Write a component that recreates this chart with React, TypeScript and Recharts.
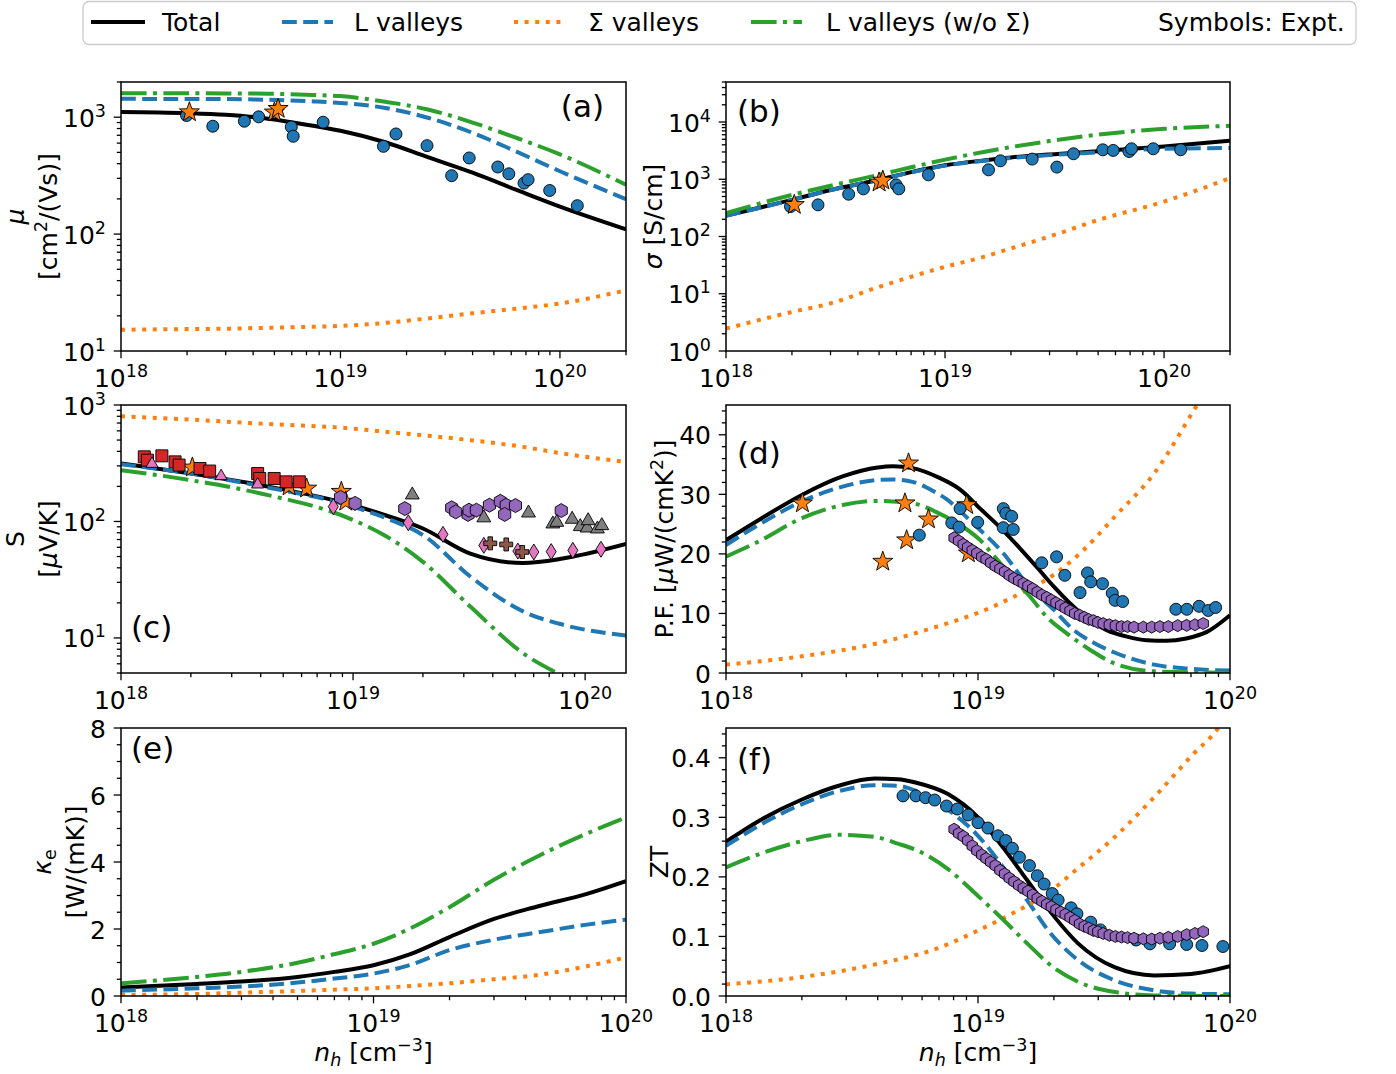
import React from 'react';
import { ComposedChart, Line, Scatter, XAxis, YAxis } from 'recharts';

// ================= DATA =================
// (a) mobility [cm^2/(Vs)]
const A_N = [1e18, 2e18, 3e18, 4e18, 5.6e18, 7.5e18, 1e19, 1.6e19, 2.5e19, 4e19, 6.3e19, 1e20, 2e20];
const A_TOTAL = [1110, 1085, 1050, 1005, 925, 845, 765, 610, 455, 335, 240, 172, 110];
const A_L = [1435, 1432, 1428, 1418, 1395, 1365, 1325, 1200, 990, 735, 510, 345, 199];
const A_SIG = [15.2, 15.4, 15.5, 15.7, 15.9, 16.1, 16.4, 17.4, 19, 21, 23, 25.5, 33];
const A_LNOS = [1600, 1600, 1598, 1595, 1575, 1550, 1515, 1355, 1165, 900, 668, 481, 264];
const A_CIRC_N = [1.99e18, 2.62e18, 3.65e18, 4.24e18, 5.97e18, 6.09e18, 8.34e18, 1.57e19, 1.79e19, 2.48e19, 3.21e19, 3.86e19, 5.21e19, 5.85e19, 6.86e19, 7.16e19, 8.98e19, 1.2e20];
const A_CIRC_MU = [1033, 837, 924, 1007, 826, 687, 906, 563, 719, 571, 316, 448, 375, 328, 273, 292, 236, 175];
const A_STAR_N = [2.05e18, 5.0e18, 5.2e18];
const A_STAR_MU = [1104, 1100, 1180];

// (b) conductivity [S/cm]
const B_N = [1e18, 2e18, 3e18, 5e18, 7e18, 1e19, 1.5e19, 2e19, 3e19, 5e19, 1e20, 2e20];
const B_TOTAL = [232, 437, 650, 980, 1330, 1750, 2130, 2400, 2720, 3080, 3750, 4710];
const B_L = [230, 435, 645, 975, 1320, 1730, 2100, 2350, 2640, 2950, 3410, 3510];
const B_SIG = [2.46, 4.8, 6.8, 13.2, 19.8, 29.5, 44, 62, 100, 194, 408, 1050];
const B_LNOS = [256, 533, 770, 1200, 1620, 2200, 3000, 3650, 4650, 6000, 7600, 8600];
const B_CIRC_N = [1.97e18, 2.63e18, 3.63e18, 4.24e18, 5.98e18, 6.15e18, 8.4e18, 1.58e19, 1.79e19, 2.5e19, 3.24e19, 3.86e19, 5.25e19, 5.86e19, 6.92e19, 7.1e19, 8.93e19, 1.19e20];
const B_CIRC_SIGMA = [333, 357, 548, 680, 798, 680, 1194, 1462, 2100, 2250, 1630, 2790, 3270, 3190, 3060, 3410, 3410, 3280];
const B_STAR_N = [2.05e18, 5.0e18, 5.2e18];
const B_STAR_SIGMA = [357, 880, 950];

// (c) Seebeck [uV/K]
const C_N = [1e18, 2e18, 4e18, 1e19, 1.4e19, 2e19, 3.2e19, 5.4e19, 8e19, 1.5e20];
const C_TOTAL = [315, 258, 205, 138, 112, 87, 53, 44, 48, 64];
const C_L = [310, 258, 201, 134, 106, 76.5, 33.7, 16.9, 13, 10.5];
const C_SIG = [800, 749, 692, 627, 587, 550, 499, 437, 383, 325];
const C_LNOS = [276, 226, 174, 103, 74, 45, 18.6, 7.4, 4.7, 2.5];
const C_SQ_N = [1.26e18, 1.3e18, 1.5e18, 1.71e18, 1.78e18, 2.19e18, 2.41e18, 3.88e18, 3.96e18, 4.57e18, 5.15e18, 5.87e18];
const C_SQ_S = [359, 336, 366, 325, 305, 285, 271, 258, 234, 234, 219, 219];
const C_PTRI_N = [1.36e18, 2.7e18, 3.88e18];
const C_PTRI_S = [319, 250, 212];
const C_STAR_N = [2.03e18, 5.3e18, 6.31e18, 8.9e18, 9.3e18];
const C_STAR_S = [291, 200, 192, 180, 148];
const C_HEX_N = [8.83e18, 1.02e19, 1.67e19, 2.66e19, 2.77e19, 3.13e19, 3.16e19, 3.4e19, 3.87e19, 4.31e19, 4.57e19, 4.5e19, 5.01e19, 7.89e19];
const C_HEX_S = [161, 143, 129, 131, 121, 115, 125, 125, 138, 149, 138, 115, 137, 124];
const C_GTRI_N = [1.8e19, 3.66e19, 5.7e19, 7.26e19, 7.55e19, 8.79e19, 9.53e19, 1.02e20, 1.03e20, 1.13e20, 1.18e20];
const C_GTRI_S = [173, 110, 121, 97.5, 100.7, 107, 92.5, 90, 104, 88.3, 94.3];
const C_DIAM_N = [8.22e18, 1.73e19, 2.44e19, 3.66e19, 5.13e19, 6.01e19, 7.14e19, 8.85e19, 1.17e20];
const C_DIAM_S = [134, 97.5, 77.5, 62.4, 55.7, 54.7, 55.1, 56.5, 57.7];
const C_PLUS_N = [3.9e19, 4.57e19, 5.36e19];
const C_PLUS_S = [64.9, 63.5, 54.7];

// (d) power factor [uW/(cm K^2)]
const D_TOTAL_N = [1e18, 1.35e18, 2e18, 2.9e18, 4e18, 4.6e18, 5.5e18, 7e18, 8.5e18, 1.02e19, 1.22e19, 1.47e19, 1.71e19, 2e19, 2.32e19, 2.7e19, 3.24e19, 3.9e19, 4.67e19, 5.6e19, 6.7e19, 8.1e19, 1e20];
const D_TOTAL = [22.3, 25.7, 29.9, 33.0, 34.5, 34.7, 34.4, 32.8, 30.8, 27.6, 24.5, 20.9, 17.8, 14.5, 11.7, 9.2, 7.2, 6.1, 5.5, 5.4, 5.8, 6.9, 9.7];
const D_L_N = [1e18, 1.35e18, 2e18, 2.9e18, 4e18, 4.6e18, 5.5e18, 6.55e18, 7.5e18, 9.4e18, 1.26e19, 1.56e19, 2e19, 2.4e19, 2.9e19, 3.5e19, 5e19, 7e19, 1e20];
const D_L = [21.5, 24.9, 28.8, 31.3, 32.4, 32.5, 32.1, 30.7, 29.2, 25.4, 20.1, 15.0, 10.6, 7.2, 5.0, 3.4, 1.4, 0.7, 0.4];
const D_SIG_N = [1e18, 2e18, 4e18, 7.5e18, 1e19, 1.4e19, 2e19, 2.6e19, 3.5e19, 5e19, 7.4e19, 1e20];
const D_SIG = [1.4, 2.8, 5.0, 8.3, 10.1, 12.9, 16.5, 20.5, 26.3, 33.5, 45, 54];
const D_LNOS_N = [1e18, 1.35e18, 2e18, 2.9e18, 4e18, 5.5e18, 7e18, 8.75e18, 1.02e19, 1.15e19, 1.38e19, 1.61e19, 1.87e19, 2.25e19, 2.78e19, 3.5e19, 5e19, 1e20];
const D_LNOS = [19.55, 22.1, 26.0, 28.2, 28.9, 28.5, 26.8, 24.5, 22.3, 19.8, 15.9, 12.8, 9.45, 6.66, 3.9, 1.56, 0.28, 0.02];
const D_STAR_N = [2.01e18, 5.3e18, 5.13e18, 6.36e18, 5.21e18, 4.19e18, 9.02e18, 9.16e18];
const D_STAR_PF = [28.5, 35.2, 28.5, 25.8, 22.3, 18.7, 28.2, 20.1];
const D_CIRC_N = [5.85e18, 7.87e18, 8.41e18, 8.49e18, 9.97e18, 1.26e19, 1.29e19, 1.36e19, 1.26e19, 1.38e19, 1.79e19, 2.05e19, 2.21e19, 2.54e19, 2.72e19, 2.8e19, 3.12e19, 3.41e19, 3.5e19, 3.75e19, 6.1e19, 6.74e19, 7.54e19, 8.2e19, 8.77e19];
const D_CIRC_PF = [23.15, 25.2, 24.5, 27.6, 25.3, 27.6, 26.8, 26.3, 24.4, 24.1, 18.5, 19.5, 16.4, 13.5, 16.8, 15.3, 15.0, 13.4, 12.2, 12.0, 10.7, 10.7, 11.2, 10.5, 11.0];
const HEX_N = [8.04e18, 8.38e18, 8.74e18, 9.1e18, 9.49e18, 9.9e18, 1.035e19, 1.077e19, 1.123e19, 1.171e19, 1.222e19, 1.276e19, 1.331e19, 1.39e19, 1.45e19, 1.513e19, 1.579e19, 1.648e19, 1.719e19, 1.794e19, 1.874e19, 1.955e19, 2.04e19, 2.13e19, 2.22e19, 2.32e19, 2.42e19, 2.53e19, 2.64e19, 2.75e19, 2.87e19, 2.99e19, 3.14e19, 3.32e19, 3.51e19, 3.71e19, 3.92e19, 4.16e19, 4.53e19, 4.89e19, 5.27e19, 5.69e19, 6.2e19, 6.73e19, 7.26e19, 7.83e19];
const D_HEX_PF = [22.7, 22.2, 21.6, 21.1, 20.6, 20.1, 19.5, 19.1, 18.5, 17.95, 17.5, 17.0, 16.4, 15.9, 15.5, 15.05, 14.6, 14.15, 13.6, 13.1, 12.7, 12.25, 11.8, 11.35, 10.9, 10.45, 10.0, 9.7, 9.35, 9.0, 8.8, 8.5, 8.3, 8.1, 7.95, 7.8, 7.8, 7.7, 7.7, 7.7, 7.8, 7.8, 7.95, 8.0, 8.1, 8.3];

// (e) electronic thermal conductivity [W/(mK)]
const E_N = [1e18, 2e18, 3e18, 5e18, 7e18, 1e19, 1.4e19, 2e19, 3e19, 4.5e19, 7e19, 1e20];
const E_TOTAL = [0.25, 0.36, 0.43, 0.57, 0.72, 0.92, 1.25, 1.76, 2.3, 2.68, 3.05, 3.43];
const E_L = [0.16, 0.23, 0.28, 0.40, 0.52, 0.67, 0.93, 1.37, 1.68, 1.9, 2.13, 2.28];
const E_SIG = [0.03, 0.06, 0.10, 0.15, 0.19, 0.23, 0.30, 0.38, 0.50, 0.63, 0.89, 1.15];
const E_LNOS = [0.38, 0.57, 0.72, 0.99, 1.25, 1.56, 2.02, 2.65, 3.47, 4.18, 4.85, 5.33];

// (f) ZT
const F_N = [1e18, 1.35e18, 2e18, 2.8e18, 3.9e18, 4.8e18, 5.7e18, 7.6e18, 1e19, 1.26e19, 1.57e19, 1.95e19, 2.5e19, 3.5e19, 5e19, 7e19, 1e20];
const F_TOTAL = [0.259, 0.294, 0.330, 0.353, 0.365, 0.364, 0.358, 0.339, 0.300, 0.249, 0.194, 0.140, 0.088, 0.048, 0.0346, 0.037, 0.050];
const F_L = [0.252, 0.286, 0.322, 0.344, 0.354, 0.353, 0.344, 0.313, 0.269, 0.216, 0.160, 0.104, 0.060, 0.026, 0.0095, 0.004, 0.003];
const F_LNOS = [0.216, 0.238, 0.260, 0.2706, 0.267, 0.256, 0.245, 0.213, 0.168, 0.128, 0.088, 0.051, 0.0237, 0.0066, 0.001, 0.0003, 0.0];
const F_SIG_N = [1e18, 2e18, 4e18, 6.8e18, 1e19, 1.36e19, 1.69e19, 2.02e19, 2.42e19, 3.47e19, 4.98e19, 7.14e19, 8.87e19, 1e20];
const F_SIG = [0.0195, 0.0318, 0.054, 0.079, 0.11, 0.138, 0.16, 0.182, 0.21, 0.266, 0.333, 0.406, 0.447, 0.48];
const F_CIRC_N = [5.04e18, 5.67e18, 6.19e18, 6.73e18, 7.5e18, 8.28e18, 9.14e18, 1e19, 1.095e19, 1.2e19, 1.288e19, 1.369e19, 1.46e19, 1.6e19, 1.72e19, 1.83e19, 1.97e19, 2.08e19, 2.34e19, 2.47e19, 2.8e19, 3.06e19, 4.24e19, 4.81e19, 5.76e19, 6.73e19, 7.74e19, 9.37e19];
const F_CIRC_ZT = [0.336, 0.336, 0.333, 0.329, 0.319, 0.314, 0.304, 0.291, 0.282, 0.269, 0.261, 0.248, 0.233, 0.219, 0.202, 0.188, 0.172, 0.161, 0.148, 0.138, 0.124, 0.111, 0.094, 0.0876, 0.0876, 0.0865, 0.0848, 0.0831];
const F_HEX_ZT = [0.280, 0.273, 0.268, 0.261, 0.252, 0.244, 0.237, 0.231, 0.225, 0.219, 0.211, 0.205, 0.198, 0.192, 0.186, 0.181, 0.176, 0.170, 0.164, 0.159, 0.154, 0.150, 0.145, 0.141, 0.137, 0.132, 0.127, 0.121, 0.117, 0.114, 0.110, 0.108, 0.105, 0.102, 0.100, 0.099, 0.098, 0.097, 0.096, 0.0955, 0.097, 0.0985, 0.100, 0.103, 0.105, 0.108];

// ================= STYLE =================
const FONT = "'DejaVu Sans', 'Liberation Sans', sans-serif";
const FS = 25;
const FS_SUP = 17.5;
const MAJ = 7.3;
const MIN = 4.2;
const LW = 4;
const COL = {
  total: '#000000', L: '#1f77b4', S: '#ff7f0e', G: '#2ca02c',
  red: '#d62728', purple: '#9467bd', brown: '#8c564b', pink: '#e377c2', gray: '#7f7f7f',
};
const DASH_L = '14.8 6.4';
const DASH_S = '4 6.6';
const DASH_G = '25.6 6.4 4 6.4';

type Pt = { x: number; y: number };
const zip = (xs: number[], ys: number[]): Pt[] => xs.map((x, i) => ({ x, y: ys[i] }));

const logTicks = (lo: number, hi: number): number[] => {
  const out: number[] = [];
  for (let e = Math.floor(Math.log10(lo)); e <= Math.ceil(Math.log10(hi)); e++) {
    for (let m = 1; m <= 9; m++) {
      const v = m * Math.pow(10, e);
      if (v >= lo * 0.9999 && v <= hi * 1.0001) out.push(v);
    }
  }
  return out;
};
const linTicks = (lo: number, hi: number, step: number): number[] => {
  const n = Math.floor((hi - lo) / step + 1e-9);
  return Array.from({ length: n + 1 }, (_, i) => +(lo + i * step).toFixed(6));
};
const isDecade = (v: number) => Math.abs(Math.log10(v) - Math.round(Math.log10(v))) < 1e-6;

const renderLogXTick = (p: any) => {
  const { x, y, payload } = p;
  const v = payload.value as number;
  const major = isDecade(v);
  return (
    <g>
      <line x1={x} x2={x} y1={y} y2={y + (major ? MAJ : MIN)} stroke="#000" strokeWidth={1.3} />
      {major ? (
        <text x={x} y={y + 36} textAnchor="middle" fontSize={FS} fontFamily={FONT} fill="#000">
          10<tspan dy={-10} fontSize={FS_SUP}>{Math.round(Math.log10(v))}</tspan>
        </text>
      ) : null}
    </g>
  );
};
const renderLogYTick = (p: any) => {
  const { x, y, payload } = p;
  const v = payload.value as number;
  const major = isDecade(v);
  return (
    <g>
      <line x1={x - (major ? MAJ : MIN)} x2={x} y1={y} y2={y} stroke="#000" strokeWidth={1.3} />
      {major ? (
        <text x={x - 15} y={y + 9.5} textAnchor="end" fontSize={FS} fontFamily={FONT} fill="#000">
          10<tspan dy={-10} fontSize={FS_SUP}>{Math.round(Math.log10(v))}</tspan>
        </text>
      ) : null}
    </g>
  );
};
const makeLinYTick = (isMajor: (v: number) => boolean, fmt: (v: number) => string) => (p: any) => {
  const { x, y, payload } = p;
  const v = payload.value as number;
  const major = isMajor(v);
  return (
    <g>
      <line x1={x - (major ? MAJ : MIN)} x2={x} y1={y} y2={y} stroke="#000" strokeWidth={1.3} />
      {major ? (
        <text x={x - 15} y={y + 9.5} textAnchor="end" fontSize={FS} fontFamily={FONT} fill="#000">
          {fmt(v)}
        </text>
      ) : null}
    </g>
  );
};

// ---------- markers ----------
const EDGE = { stroke: '#000', strokeWidth: 0.9 };
const poly = (cx: number, cy: number, pts: [number, number][]) =>
  pts.map(([dx, dy], i) => `${i ? 'L' : 'M'}${(cx + dx).toFixed(2)},${(cy + dy).toFixed(2)}`).join('') + 'Z';
const regular = (R: number, n: number, rot: number): [number, number][] =>
  Array.from({ length: n }, (_, i) => [R * Math.cos(rot + (2 * Math.PI * i) / n), R * Math.sin(rot + (2 * Math.PI * i) / n)] as [number, number]);
const starPts = (R: number): [number, number][] =>
  Array.from({ length: 10 }, (_, i) => {
    const a = -Math.PI / 2 + (i * Math.PI) / 5;
    const rr = i % 2 === 0 ? R : R * 0.4;
    return [rr * Math.cos(a), rr * Math.sin(a)] as [number, number];
  });
const mkCircle = (fill: string, r: number) => (p: any) => <circle cx={p.cx} cy={p.cy} r={r} fill={fill} {...EDGE} />;
const mkPoly = (fill: string, pts: [number, number][]) => (p: any) => <path d={poly(p.cx, p.cy, pts)} fill={fill} {...EDGE} />;
const mkSquare = (fill: string, s: number) => mkPoly(fill, [[-s / 2, -s / 2], [s / 2, -s / 2], [s / 2, s / 2], [-s / 2, s / 2]]);
const mkStar = (fill: string, R: number) => mkPoly(fill, starPts(R));
const mkHex = (fill: string, R: number) => mkPoly(fill, regular(R, 6, -Math.PI / 2));
const mkTri = (fill: string, R: number) => mkPoly(fill, regular(R, 3, -Math.PI / 2).map(([a, b]) => [a, b + R * 0.15] as [number, number]));
const mkDiamond = (fill: string, w: number, h: number) => mkPoly(fill, [[0, -h], [w, 0], [0, h], [-w, 0]]);
const mkPlus = (fill: string, a: number, t: number) =>
  mkPoly(fill, [[-t, -a], [t, -a], [t, -t], [a, -t], [a, t], [t, t], [t, a], [-t, a], [-t, t], [-a, t], [-a, -t], [-t, -t]]);

const line = (key: string, xs: number[], ys: number[], stroke: string, dash?: string) => (
  <Line key={key} data={zip(xs, ys)} dataKey="y" type="monotone" stroke={stroke} strokeWidth={LW}
    strokeDasharray={dash} dot={false} activeDot={false} isAnimationActive={false} legendType="none" />
);
const scatter = (key: string, xs: number[], ys: number[], shape: (p: any) => any) => (
  <Scatter key={key} data={zip(xs, ys)} dataKey="y" shape={shape} isAnimationActive={false} legendType="none" />
);
const models = (p: string, n: number[][], tot: number[], l: number[], s: number[], g: number[]) => [
  line(p + 't', n[0], tot, COL.total),
  line(p + 'l', n[1], l, COL.L, DASH_L),
  line(p + 's', n[2], s, COL.S, DASH_S),
  line(p + 'g', n[3], g, COL.G, DASH_G),
];

// ---------- panels ----------
type Cfg = {
  left: number; top: number; w: number; h: number;
  xDom: [number, number]; yDom: [number, number]; yLog: boolean;
  yTicks: number[]; yTick: (p: any) => any;
};
const PA: Cfg = { left: 121, top: 82, w: 505, h: 269, xDom: [1e18, 2e20], yDom: [10, 2000], yLog: true, yTicks: logTicks(10, 2000), yTick: renderLogYTick };
const PB: Cfg = { left: 726, top: 82, w: 504, h: 269, xDom: [1e18, 2e20], yDom: [1, 5e4], yLog: true, yTicks: logTicks(1, 5e4), yTick: renderLogYTick };
const PC: Cfg = { left: 121, top: 405, w: 505, h: 268, xDom: [1e18, 1.5e20], yDom: [5, 1000], yLog: true, yTicks: logTicks(5, 1000), yTick: renderLogYTick };
const PD: Cfg = { left: 726, top: 405, w: 504, h: 268, xDom: [1e18, 1e20], yDom: [0, 45], yLog: false, yTicks: linTicks(0, 45, 2), yTick: makeLinYTick((v) => Math.abs(v % 10) < 1e-6, (v) => String(v)) };
const PE: Cfg = { left: 121, top: 728, w: 505, h: 268, xDom: [1e18, 1e20], yDom: [0, 8], yLog: false, yTicks: linTicks(0, 8, 0.5), yTick: makeLinYTick((v) => Math.abs(v % 2) < 1e-6, (v) => String(v)) };
const PF: Cfg = { left: 726, top: 728, w: 504, h: 268, xDom: [1e18, 1e20], yDom: [0, 0.45], yLog: false, yTicks: linTicks(0, 0.45, 0.02), yTick: makeLinYTick((v) => Math.abs(v * 10 - Math.round(v * 10)) < 1e-6, (v) => v.toFixed(1)) };
const PANELS = [PA, PB, PC, PD, PE, PF];

function Panel({ cfg, children }: { cfg: Cfg; children: React.ReactNode }) {
  const ML = 110, MR = 45, MT = 20, MB = 55;
  const W = cfg.w + ML + MR;
  const H = cfg.h + MT + MB;
  return (
    <div style={{ position: 'absolute', left: cfg.left - ML, top: cfg.top - MT, width: W, height: H }}>
      <ComposedChart width={W} height={H} margin={{ top: MT, right: MR, bottom: 0, left: 0 }}>
        <XAxis type="number" dataKey="x" scale="log" domain={cfg.xDom} allowDataOverflow
          ticks={logTicks(cfg.xDom[0], cfg.xDom[1])} interval={0} tickSize={0} tickMargin={0}
          axisLine={false} tickLine={false} tick={renderLogXTick} height={MB} />
        <YAxis type="number" dataKey="y" scale={cfg.yLog ? 'log' : 'linear'} domain={cfg.yDom} allowDataOverflow
          ticks={cfg.yTicks} interval={0} tickSize={0} tickMargin={0}
          axisLine={false} tickLine={false} tick={cfg.yTick} width={ML} />
        {children}
      </ComposedChart>
    </div>
  );
}

const T = (props: any) => <text fontFamily={FONT} fontSize={FS} fill="#000" style={{ whiteSpace: 'pre' }} {...props} />;
const rot = (x: number, y: number) => `translate(${x},${y}) rotate(-90)`;

function Overlay() {
  return (
    <svg width={1396} height={1074} style={{ position: 'absolute', left: 0, top: 0, pointerEvents: 'none' }}>
      {/* legend */}
      <rect x={83} y={1.5} width={1273} height={43} rx={6} fill="#fff" stroke="#cccccc" strokeWidth={1.3} />
      <line x1={91} x2={145} y1={22} y2={22} stroke={COL.total} strokeWidth={LW} />
      <T x={162} y={31}>Total</T>
      <line x1={282} x2={333} y1={22} y2={22} stroke={COL.L} strokeWidth={LW} strokeDasharray={DASH_L} />
      <T x={354} y={31}>L valleys</T>
      <line x1={514} x2={564} y1={22} y2={22} stroke={COL.S} strokeWidth={LW} strokeDasharray={DASH_S} />
      <T x={588} y={31}>Σ valleys</T>
      <line x1={751} x2={802} y1={22} y2={22} stroke={COL.G} strokeWidth={LW} strokeDasharray={DASH_G} />
      <T x={826} y={31}>L valleys (w/o Σ)</T>
      <T x={1158} y={31}>Symbols: Expt.</T>

      {/* frames */}
      {PANELS.map((p, i) => (
        <rect key={i} x={p.left} y={p.top} width={p.w} height={p.h} fill="none" stroke="#000" strokeWidth={1.5} />
      ))}

      {/* panel tags */}
      <T x={604} y={117} fontSize={31} textAnchor="end">(a)</T>
      <T x={737} y={122} fontSize={31}>(b)</T>
      <T x={131} y={638} fontSize={31}>(c)</T>
      <T x={737} y={464} fontSize={31}>(d)</T>
      <T x={131} y={759} fontSize={31}>(e)</T>
      <T x={737} y={770} fontSize={31}>(f)</T>

      {/* y labels */}
      <T transform={rot(24, 216.5)} textAnchor="middle"><tspan fontStyle="italic">μ</tspan></T>
      <T transform={rot(57, 216.5)} textAnchor="middle">[cm<tspan dy={-10} fontSize={FS_SUP}>2</tspan><tspan dy={10}>/(Vs)]</tspan></T>
      <T transform={rot(661.5, 216.5)} textAnchor="middle"><tspan fontStyle="italic">σ</tspan> [S/cm]</T>
      <T transform={rot(24, 539)} textAnchor="middle">S</T>
      <T transform={rot(57, 539)} textAnchor="middle">[<tspan fontStyle="italic">μ</tspan>V/K]</T>
      <T transform={rot(672.5, 539)} textAnchor="middle">P.F. [<tspan fontStyle="italic">μ</tspan>W/(cmK<tspan dy={-10} fontSize={FS_SUP}>2</tspan><tspan dy={10}>)]</tspan></T>
      <T transform={rot(51, 862)} textAnchor="middle"><tspan fontStyle="italic">κ</tspan><tspan dy={5} fontSize={FS_SUP}>e</tspan></T>
      <T transform={rot(83.5, 862)} textAnchor="middle">[W/(mK)]</T>
      <T transform={rot(668, 862)} textAnchor="middle">ZT</T>

      {/* x labels */}
      {[373.5, 978].map((cx) => (
        <T key={cx} x={cx} y={1061} textAnchor="middle">
          <tspan fontStyle="italic">n</tspan>
          <tspan dy={5} fontSize={FS_SUP} fontStyle="italic">h</tspan>
          <tspan dy={-5}> [cm</tspan>
          <tspan dy={-10} fontSize={FS_SUP}>−3</tspan>
          <tspan dy={10}>]</tspan>
        </T>
      ))}
    </svg>
  );
}

export default function App() {
  return (
    <div style={{ position: 'absolute', left: 0, top: 0, width: 1396, height: 1074, background: '#fff', fontFamily: FONT }}>
      <Panel cfg={PA}>
        {[
          ...models('a', [A_N, A_N, A_N, A_N], A_TOTAL, A_L, A_SIG, A_LNOS),
          scatter('a1', A_CIRC_N, A_CIRC_MU, mkCircle(COL.L, 6)),
          scatter('a2', A_STAR_N, A_STAR_MU, mkStar(COL.S, 10.5)),
        ]}
      </Panel>
      <Panel cfg={PB}>
        {[
          ...models('b', [B_N, B_N, B_N, B_N], B_TOTAL, B_L, B_SIG, B_LNOS),
          scatter('b1', B_CIRC_N, B_CIRC_SIGMA, mkCircle(COL.L, 6)),
          scatter('b2', B_STAR_N, B_STAR_SIGMA, mkStar(COL.S, 10.5)),
        ]}
      </Panel>
      <Panel cfg={PC}>
        {[
          ...models('c', [C_N, C_N, C_N, C_N], C_TOTAL, C_L, C_SIG, C_LNOS),
          scatter('c1', C_STAR_N, C_STAR_S, mkStar(COL.S, 10.5)),
          scatter('c2', C_SQ_N, C_SQ_S, mkSquare(COL.red, 12)),
          scatter('c3', C_PTRI_N, C_PTRI_S, mkTri(COL.pink, 7)),
          scatter('c4', C_HEX_N, C_HEX_S, mkHex(COL.purple, 7)),
          scatter('c5', C_GTRI_N, C_GTRI_S, mkTri(COL.gray, 8)),
          scatter('c6', C_DIAM_N, C_DIAM_S, mkDiamond(COL.pink, 5, 8)),
          scatter('c7', C_PLUS_N, C_PLUS_S, mkPlus(COL.brown, 6.5, 2.3)),
        ]}
      </Panel>
      <Panel cfg={PD}>
        {[
          ...models('d', [D_TOTAL_N, D_L_N, D_SIG_N, D_LNOS_N], D_TOTAL, D_L, D_SIG, D_LNOS),
          scatter('d1', D_STAR_N, D_STAR_PF, mkStar(COL.S, 10.5)),
          scatter('d2', D_CIRC_N, D_CIRC_PF, mkCircle(COL.L, 6)),
          scatter('d3', HEX_N, D_HEX_PF, mkHex(COL.purple, 6)),
        ]}
      </Panel>
      <Panel cfg={PE}>
        {models('e', [E_N, E_N, E_N, E_N], E_TOTAL, E_L, E_SIG, E_LNOS)}
      </Panel>
      <Panel cfg={PF}>
        {[
          ...models('f', [F_N, F_N, F_SIG_N, F_N], F_TOTAL, F_L, F_SIG, F_LNOS),
          scatter('f1', F_CIRC_N, F_CIRC_ZT, mkCircle(COL.L, 6)),
          scatter('f2', HEX_N, F_HEX_ZT, mkHex(COL.purple, 6)),
        ]}
      </Panel>
      <Overlay />
    </div>
  );
}
